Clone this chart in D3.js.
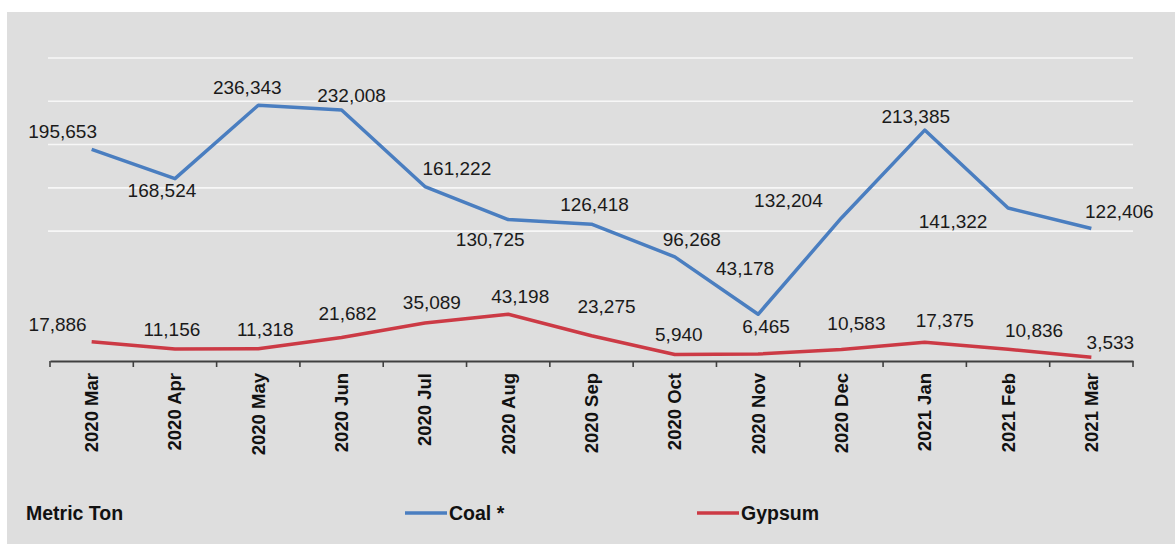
<!DOCTYPE html>
<html>
<head>
<meta charset="utf-8">
<script src="https://cdn.jsdelivr.net/npm/d3@7/dist/d3.min.js"></script>
<style>
  html, body { margin: 0; padding: 0; background: #ffffff; }
  svg { display: block; }
  text { font-family: "Liberation Sans", Arial, sans-serif; }
</style>
</head>
<body>
<svg id="chart" width="1175" height="544"></svg>
<script>
// ---- data ----
const categories = ["2020 Mar","2020 Apr","2020 May","2020 Jun","2020 Jul","2020 Aug","2020 Sep",
                    "2020 Oct","2020 Nov","2020 Dec","2021 Jan","2021 Feb","2021 Mar"];
const coal   = [195653,168524,236343,232008,161222,130725,126418,96268,43178,132204,213385,141322,122406];
const gypsum = [17886,11156,11318,21682,35089,43198,23275,5940,6465,10583,17375,10836,3533];
const gridTicks = [120000,160000,200000,240000,280000];
const seriesNames = ["Coal *","Gypsum"];
const unitLabel = "Metric Ton";

// ---- label layout offsets (relative to each point) ----
const coalDx = [-29,-13,-11,10,32,-18,3,17,-13,-53,-9,-55,28];
const coalDy = [-18,12,-18,-14,-18,20,-20,-17,-46,-17,-14,13,-17];
const gypDx  = [-34,-3,7,6,7,12,15,4,8,15,20,26,19];
const gypDy  = [-17,-19,-19,-24,-21,-18,-29,-20,-28,-26,-22,-19,-15];

const colors = {coal: "#4a7ec0", gypsum: "#cc3a45"};

const svg = d3.select("#chart");

// background panel
svg.append("rect").attr("x", 7).attr("y", 12).attr("width", 1168).attr("height", 532)
   .attr("fill", "#dedede");

const x = d3.scaleBand().domain(categories).range([50, 1133]).padding(0);
const y = d3.scaleLinear().domain([0, 280000]).range([361, 58]);
const cx = c => x(c) + x.bandwidth() / 2;

// gridlines
svg.append("g").selectAll("line").data(gridTicks).join("line")
  .attr("x1", 48).attr("x2", 1133)
  .attr("y1", d => y(d)).attr("y2", d => y(d))
  .attr("stroke", "#f7f7f7").attr("stroke-width", 1.6);

// x axis
const axisG = svg.append("g").attr("transform", `translate(0,${y(0)})`)
  .call(d3.axisBottom(x).tickSize(0).tickFormat(""));
axisG.select(".domain").attr("stroke", "#404040").attr("stroke-width", 2);
const tickPos = categories.map(c => x(c)).concat([x.range()[1]]);
axisG.selectAll("line.tk").data(tickPos).join("line").attr("class", "tk")
  .attr("x1", d => d).attr("x2", d => d).attr("y1", 0).attr("y2", 6)
  .attr("stroke", "#404040").attr("stroke-width", 1.6);

svg.append("g").selectAll("text").data(categories).join("text")
  .attr("transform", d => `translate(${cx(d)},373) rotate(-90)`)
  .attr("text-anchor", "end").attr("dominant-baseline", "central")
  .attr("font-size", "18.5px").attr("font-weight", "bold").attr("fill", "#111")
  .text(d => d);

// lines
const line = d3.line().x((d, i) => cx(categories[i])).y(d => y(d));
svg.append("path").datum(gypsum).attr("d", line).attr("fill", "none")
  .attr("stroke", colors.gypsum).attr("stroke-width", 3.5).attr("stroke-linejoin", "round");
svg.append("path").datum(coal).attr("d", line).attr("fill", "none")
  .attr("stroke", colors.coal).attr("stroke-width", 3.5).attr("stroke-linejoin", "round");

// data labels
const fmt = d3.format(",");
function labels(values, dx, dy) {
  svg.append("g").selectAll("text").data(values).join("text")
    .attr("x", (d, i) => cx(categories[i]) + dx[i])
    .attr("y", (d, i) => y(d) + dy[i])
    .attr("text-anchor", "middle").attr("dominant-baseline", "central")
    .attr("font-size", "19px").attr("fill", "#1a1a1a")
    .text(d => fmt(d));
}
labels(coal, coalDx, coalDy);
labels(gypsum, gypDx, gypDy);

// legend
svg.append("text").attr("x", 26).attr("y", 513).attr("dominant-baseline", "central")
  .attr("font-size", "19.5px").attr("font-weight", "bold").attr("fill", "#111").text(unitLabel);
const legend = [
  {name: seriesNames[0], color: colors.coal, x: 405},
  {name: seriesNames[1], color: colors.gypsum, x: 697}
];
const lg = svg.append("g").selectAll("g").data(legend).join("g")
  .attr("transform", d => `translate(${d.x},513)`);
lg.append("line").attr("x1", 0).attr("x2", 42).attr("y1", 0).attr("y2", 0)
  .attr("stroke", d => d.color).attr("stroke-width", 3.5);
lg.append("text").attr("x", 44).attr("y", 0).attr("dominant-baseline", "central")
  .attr("font-size", "19.5px").attr("font-weight", "bold").attr("fill", "#111")
  .text(d => d.name);
</script>
</body>
</html>
